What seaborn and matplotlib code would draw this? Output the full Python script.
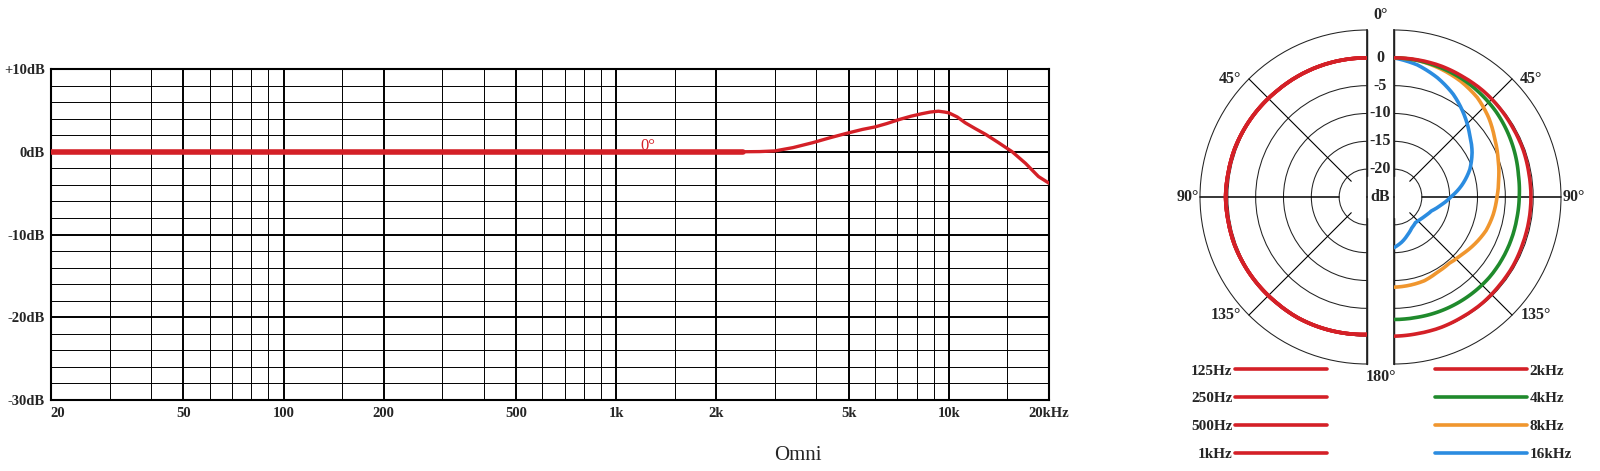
import numpy as np
import matplotlib
matplotlib.use("Agg")
import matplotlib.pyplot as plt
import matplotlib.ticker as mticker
from matplotlib.transforms import offset_copy
import seaborn as sns

# -----------------------------------------------
# DATA
# -----------------------------------------------
# on-axis (0 deg) frequency response
freq_hz = [20, 50, 100, 200, 500, 1000, 2000, 2400, 2700, 3000, 3400, 3900,
           4400, 4900, 5500, 6000, 6500, 7100, 7700, 8300, 8800, 9300, 9700,
           10000, 10600, 11200, 12000, 12900, 14100, 15500, 17000, 18600, 20000]
resp_db = [0, 0, 0, 0, 0, 0, 0, 0, 0.02, 0.1, 0.5, 1.1,
           1.7, 2.2, 2.7, 3.0, 3.4, 3.9, 4.3, 4.6, 4.8, 4.9, 4.8,
           4.7, 4.2, 3.5, 2.8, 2.1, 1.1, 0.0, -1.4, -3.0, -3.8]

x_major = [20, 50, 100, 200, 500, 1000, 2000, 5000, 10000, 20000]
x_major_labels = ["20", "50", "100", "200", "500", "1k", "2k", "5k", "10k", "20kHz"]
x_minor = [30, 40, 60, 70, 80, 90, 150, 300, 400, 600, 700, 800, 900,
           1500, 3000, 4000, 6000, 7000, 8000, 9000, 15000]
y_major = [-30, -20, -10, 0, 10]
y_major_labels = ["-30dB", "-20dB", "-10dB", "0dB", "+10dB"]
y_minor = [-28, -26, -24, -22, -18, -16, -14, -12, -8, -6, -4, -2, 2, 4, 6, 8]

# polar pattern (dB), every 10 degrees from 0 to 180
polar_deg = [0, 10, 20, 30, 40, 50, 60, 70, 80, 90,
             100, 110, 120, 130, 140, 150, 160, 170, 180]
low_db = [0, 0, 0, 0, 0, 0.1, 0.2, 0.3, 0.3, 0.4,
          0.3, 0.3, 0.2, 0.1, 0, 0, -0.1, -0.2, -0.3]          # 125Hz..1kHz
khz2_db = [0, 0, 0, -0.1, -0.1, -0.2, -0.3, -0.3, -0.4, -0.4,
           -0.4, -0.4, -0.3, -0.3, -0.2, -0.2, -0.1, -0.1, 0]
khz4_db = [0, -0.1, -0.3, -0.5, -0.8, -1.1, -1.5, -1.9, -2.3, -2.5,
           -2.6, -2.6, -2.6, -2.6, -2.7, -2.8, -2.9, -3.0, -3.0]
khz8_db = [0, -0.1, -0.5, -1.0, -1.7, -2.8, -4.1, -5.1, -5.9, -6.5,
           -6.9, -7.4, -8.2, -9.0, -9.5, -9.4, -9.0, -8.9, -8.8]
khz16_db = [0, -0.9, -2.2, -3.7, -5.5, -7.3, -8.8, -10.5, -12.6, -14.8,
            -16.5, -17.8, -18.4, -18.8, -19.0, -18.6, -17.8, -16.8, -15.9]

left_labels = ["125Hz", "250Hz", "500Hz", "1kHz"]
right_labels = ["2kHz", "4kHz", "8kHz", "16kHz"]
ring_db = [-20, -15, -10, -5, 0]
ring_labels = ["-20", "-15", "-10", "-5", "0"]
spoke_deg = [45, 90, 135]

RED = "#d42027"
GREEN = "#1f8a2c"
ORANGE = "#f0962e"
BLUE = "#2b8ce0"

# -----------------------------------------------
# STYLE
# -----------------------------------------------
sns.set_theme(style="white")
plt.rcParams["font.family"] = ["Liberation Serif", "DejaVu Serif"]
plt.rcParams["axes.axisbelow"] = True

fig = plt.figure(figsize=(16, 4.71), dpi=100)

# -----------------------------------------------
# FREQUENCY RESPONSE
# -----------------------------------------------
ax = fig.add_axes([0.031875, 0.150743, 0.62375, 0.702760])
ax.set_xscale("log")

sns.lineplot(x=freq_hz, y=resp_db, ax=ax, color=RED, lw=2.4, zorder=3)
n_flat = sum(f <= 2400 for f in freq_hz)
sns.lineplot(x=freq_hz[:n_flat], y=resp_db[:n_flat], ax=ax,
             color=RED, lw=4.0, zorder=3)

ax.set_xlim(20, 20000)
ax.set_ylim(-30, 10)
ax.set_xticks(x_major)
ax.set_xticks(x_minor, minor=True)
ax.xaxis.set_major_formatter(mticker.NullFormatter())
ax.xaxis.set_minor_formatter(mticker.NullFormatter())
ax.set_yticks(y_major)
ax.set_yticks(y_minor, minor=True)
ax.set_yticklabels(y_major_labels, fontweight="bold", fontsize=10.5)
ax.tick_params(which="both", length=0)
ax.tick_params(axis="y", pad=4.5)
ax.grid(which="major", color="black", lw=1.4)
ax.grid(which="minor", color="black", lw=0.7)
ax.set_xlabel("")
ax.set_ylabel("")
for s in ax.spines.values():
    s.set_visible(True)
    s.set_color("black")
    s.set_linewidth(1.5)

# x labels sit on the bottom border, breaking it
for i, (f, lab) in enumerate(zip(x_major, x_major_labels)):
    dx = 7 if i == 0 else 0
    tr = offset_copy(ax.transData, fig=fig, x=dx, y=-17, units="dots")
    ax.text(f, -30, lab, transform=tr, ha="center", va="baseline",
            fontsize=10.5, fontweight="bold", zorder=5, clip_on=False,
            bbox=dict(boxstyle="square,pad=0.3", facecolor="white",
                      edgecolor="none"))

ax.text(1246, 0.2, "0°", color=RED, fontsize=12, ha="center",
        va="baseline", zorder=4)

fig.text(798 / 1600, 1 - 456 / 471, "Omni", fontsize=15,
         ha="center", va="center")

# -----------------------------------------------
# POLAR PATTERN (two half discs)
# -----------------------------------------------
# polar axes stay square, the half disc is centred inside the box
ax_l = fig.add_axes([0.69781, 0.22718, 0.20875, 0.70913], projection="polar")
ax_r = fig.add_axes([0.81906, 0.22718, 0.20875, 0.70913], projection="polar")

theta = np.deg2rad(polar_deg)


def setup_half(a, direction):
    a.set_theta_zero_location("N")
    a.set_theta_direction(direction)
    a.set_thetamin(0)
    a.set_thetamax(180)
    a.set_ylim(-25, 5)
    a.set_yticks(ring_db)
    a.set_yticklabels([])
    a.set_xticks([])
    a.yaxis.grid(True, color="#222222", lw=0.75)
    a.xaxis.grid(False)
    a.set_facecolor("white")
    for s in ("start", "end", "inner"):
        a.spines[s].set_visible(False)
    a.spines["polar"].set_color("#222222")
    a.spines["polar"].set_linewidth(0.75)
    for t in spoke_deg:
        a.plot([np.deg2rad(t)] * 2, [-21 if t != 90 else -20, 5],
               color="black", lw=0.8 if t != 90 else 1.1, zorder=1,
               clip_on=False)
    for t in (0, 180):
        a.plot([np.deg2rad(t)] * 2, [-21.3, 5], color="black", lw=1.0,
               zorder=1, clip_on=False)


setup_half(ax_l, 1)
setup_half(ax_r, -1)

for lab in left_labels:
    sns.lineplot(x=theta, y=low_db, ax=ax_l, color=RED, lw=2.6,
                 label=lab, legend=False, zorder=3)
for vals, col, lab in zip([khz16_db, khz8_db, khz4_db, khz2_db],
                          [BLUE, ORANGE, GREEN, RED],
                          right_labels[::-1]):
    sns.lineplot(x=theta, y=vals, ax=ax_r, color=col, lw=2.6,
                 label=lab, legend=False, zorder=3)

# let the polar transform draw smooth arcs between readings
for a in (ax_l, ax_r):
    for ln in a.lines:
        ln._path._interpolation_steps = 24
    a.set_xlabel("")
    a.set_ylabel("")

# ring values and angle labels in the gap between halves
gap_tr = offset_copy(ax_l.transData, fig=fig, x=13.5, y=0, units="dots")
for r, lab in zip(ring_db, ring_labels):
    ax_l.text(0, r, lab, transform=gap_tr, ha="center", va="center",
              fontsize=11.5, fontweight="bold")
ax_l.text(0, -25, "dB", transform=gap_tr, ha="center", va="center",
          fontsize=11.5, fontweight="bold")
ax_l.text(0, 5, "0°", ha="center", va="center", fontsize=11.5,
          fontweight="bold",
          transform=offset_copy(ax_l.transData, fig=fig, x=13.5, y=15, units="dots"))
ax_l.text(np.pi, 5, "180°", ha="center", va="center", fontsize=11.5,
          fontweight="bold",
          transform=offset_copy(ax_l.transData, fig=fig, x=13.5, y=-13, units="dots"))

for t, dx in zip(spoke_deg, [-8, -1, -8]):
    ax_l.text(np.deg2rad(t), 5, f"{t}°", ha="right", va="center",
              fontsize=11.5, fontweight="bold",
              transform=offset_copy(ax_l.transData, fig=fig, x=dx, y=0, units="dots"))
for t, dx in zip(spoke_deg, [8, 2, 9]):
    ax_r.text(np.deg2rad(t), 5, f"{t}°", ha="left", va="center",
              fontsize=11.5, fontweight="bold",
              transform=offset_copy(ax_r.transData, fig=fig, x=dx, y=0, units="dots"))

# -----------------------------------------------
# LEGENDS
# -----------------------------------------------
h_l, l_l = ax_l.get_legend_handles_labels()
h_r, l_r = ax_r.get_legend_handles_labels()
order = [l_r.index(lab) for lab in right_labels]
h_r = [h_r[i] for i in order]
l_r = [l_r[i] for i in order]

leg_kw = dict(frameon=False, handlelength=6.0, handletextpad=0.2,
              labelspacing=0.92, borderpad=0, borderaxespad=0,
              prop=dict(weight="bold", size=11))
leg1 = fig.legend(h_l, l_l, loc="upper right", markerfirst=False,
                  bbox_to_anchor=(1327 / 1600, 1 - 364 / 471), **leg_kw)
leg2 = fig.legend(h_r, l_r, loc="upper left", markerfirst=True,
                  bbox_to_anchor=(1435 / 1600, 1 - 364 / 471), **leg_kw)

plt.savefig("out.png", dpi=100)
plt.close()
